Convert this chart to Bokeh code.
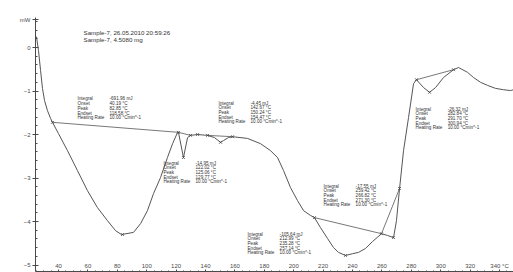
from bokeh.plotting import figure
from bokeh.models import FixedTicker, Range1d
from bokeh.core.properties import value
from bokeh.embed import file_html
from bokeh.resources import INLINE

# DSC curve: temperature (°C) and heat flow (mW)
temp_c = [25.0, 26.4, 27.8, 29.1, 30.5, 32.5, 34.6, 35.9, 40.0, 46.1, 52.9, 59.7, 66.5, 73.3,
          78.8, 82.85, 91.0, 95.8, 100.5, 104.6, 109.4, 114.1, 117.6, 121.0, 121.6, 125.0,
          127.8, 129.8, 134.6, 141.4, 146.1, 150.2, 152.2, 155.6, 158.4, 168.6, 177.4, 184.2,
          189.0, 193.1, 197.8, 202.6, 206.7, 211.4, 214.1, 218.2, 223.0, 227.1, 230.5, 235.2,
          240.0, 244.1, 248.8, 253.6, 259.7, 263.8, 267.9, 269.9, 272.0, 274.7, 278.1, 281.5,
          283.5, 288.3, 292.4, 296.5, 301.9, 308.7, 312.1, 318.2, 322.3, 327.1, 331.8, 337.3,
          342.7, 347.5, 349.5]
heat_flow_mw = [0.25, -0.07, -0.53, -0.94, -1.22, -1.45, -1.63, -1.72, -1.98, -2.37, -2.83,
                -3.29, -3.68, -3.98, -4.21, -4.30, -4.25, -4.05, -3.75, -3.36, -2.99, -2.53,
                -2.21, -1.95, -1.95, -2.53, -2.07, -2.02, -2.00, -2.02, -2.07, -2.18, -2.14,
                -2.07, -2.05, -2.09, -2.21, -2.37, -2.53, -2.83, -3.22, -3.52, -3.75, -3.86,
                -3.91, -4.14, -4.39, -4.60, -4.71, -4.78, -4.74, -4.71, -4.62, -4.46, -4.28,
                -4.32, -4.37, -3.98, -3.24, -2.37, -1.61, -0.83, -0.74, -0.92, -1.03, -0.92,
                -0.69, -0.51, -0.46, -0.57, -0.69, -0.80, -0.87, -0.94, -0.97, -0.99, -0.97]

# integration baselines (start T, start mW, end T, end mW)
base_t0 = [35.9, 121.6, 141.4, 214.1, 259.7, 283.5]
base_m0 = [-1.72, -1.95, -2.02, -3.91, -4.28, -0.74]
base_t1 = [121.6, 129.8, 158.4, 259.7, 272.0, 308.7]
base_m1 = [-1.95, -2.02, -2.05, -4.28, -3.24, -0.51]

# evaluation markers
mark_t = [35.9, 121.6, 83.5, 125.0, 129.8, 134.6, 141.4, 150.2, 158.4, 214.1, 235.2,
          259.7, 267.9, 272.0, 283.5, 292.4, 308.7]
mark_m = [-1.72, -1.95, -4.30, -2.53, -2.02, -2.00, -2.02, -2.18, -2.05, -3.91, -4.78,
          -4.28, -4.37, -3.24, -0.74, -1.03, -0.51]

# evaluation result blocks
ann_names = ["Integral", "Onset", "Peak", "Endset", "Heating Rate"]
ann_anchor_t = [52.9, 111.4, 148.8, 168.6, 220.3, 282.9]
ann_anchor_m = [-1.126, -2.60, -1.22, -4.23, -3.13, -1.36]
ann_values = [
    ["-691.96 mJ", "40.19 °C", "82.85 °C", "118.58 °C", "10.00 °Cmin^-1"],
    ["-14.95 mJ", "122.02 °C", "125.06 °C", "129.77 °C", "10.00 °Cmin^-1"],
    ["-4.45 mJ", "142.67 °C", "150.24 °C", "154.47 °C", "10.00 °Cmin^-1"],
    ["-105.64 mJ", "212.99 °C", "235.28 °C", "257.14 °C", "10.00 °Cmin^-1"],
    ["-17.55 mJ", "259.42 °C", "266.82 °C", "271.30 °C", "10.00 °Cmin^-1"],
    ["-26.32 mJ", "282.84 °C", "291.70 °C", "300.94 °C", "10.00 °Cmin^-1"],
]

header_lines = ["Sample-7, 26.05.2010 20:59:26", "Sample-7, 4.5080 mg"]

x_ticks = list(range(40, 341, 20))
y_ticks = [-5, -4, -3, -2, -1, 0]

INK = "#4a4a4a"
FONT = value("Liberation Sans")

p = figure(width=513, height=272, output_backend="svg", toolbar_location=None,
           x_range=Range1d(24.35, 349.5), y_range=Range1d(-5.149, 0.69),
           min_border_left=35, min_border_right=0, min_border_top=17, min_border_bottom=1)
p.outline_line_color = None
p.grid.visible = False
p.background_fill_color = "white"
p.border_fill_color = "white"

# axes
p.xaxis.ticker = FixedTicker(ticks=x_ticks, minor_ticks=list(range(25, 350, 5)))
p.xaxis.major_label_overrides = {340: "340 °C"}
p.xaxis.major_label_standoff = -11
p.xaxis.major_tick_in = 2
p.xaxis.major_tick_out = 2
p.xaxis.minor_tick_in = 1
p.xaxis.minor_tick_out = 1

yt = y_ticks + [0.64]
p.yaxis.ticker = FixedTicker(ticks=yt, minor_ticks=[round(-5 + 0.2 * i, 1) for i in range(29)])
p.yaxis.major_label_overrides = {0.64: "mW"}
p.yaxis.major_tick_in = 3
p.yaxis.major_tick_out = 3
p.yaxis.minor_tick_in = 2
p.yaxis.minor_tick_out = 0
p.yaxis.major_label_standoff = 2

for ax in (p.xaxis, p.yaxis):
    ax.axis_line_color = INK
    ax.major_tick_line_color = INK
    ax.minor_tick_line_color = INK
    ax.major_label_text_font = "Liberation Sans"
    ax.major_label_text_font_size = "6px"
    ax.major_label_text_color = INK

# curve, baselines, markers
p.line(temp_c, heat_flow_mw, line_color="#555555", line_width=1)
p.segment(base_t0, base_m0, base_t1, base_m1, line_color="#555555", line_width=0.8)
p.scatter(mark_t, mark_m, marker="x", size=4, line_color="#444444", line_width=0.8)

# annotation blocks
nx, ny, nt, vx, vt, off = [], [], [], [], [], []
for t, m, vals in zip(ann_anchor_t, ann_anchor_m, ann_values):
    for i, (nm, vv) in enumerate(zip(ann_names, vals)):
        nx.append(t); ny.append(m); nt.append(nm)
        vx.append(t + 21.8); vt.append(vv); off.append(i * 4.7)
p.text(nx, ny, text=nt, y_offset=off, text_font=FONT, text_font_size="4.6px",
       text_color="#333333", text_baseline="top")
p.text(vx, ny, text=vt, y_offset=off, text_font=FONT, text_font_size="4.6px",
       text_color="#333333", text_baseline="top")

# header
p.text([57.0, 57.0], [0.43, 0.43], text=header_lines, y_offset=[0, 7],
       text_font=FONT, text_font_size="6.2px", text_color="#333333", text_baseline="top")

open("out.html", "w").write(file_html(p, INLINE))
